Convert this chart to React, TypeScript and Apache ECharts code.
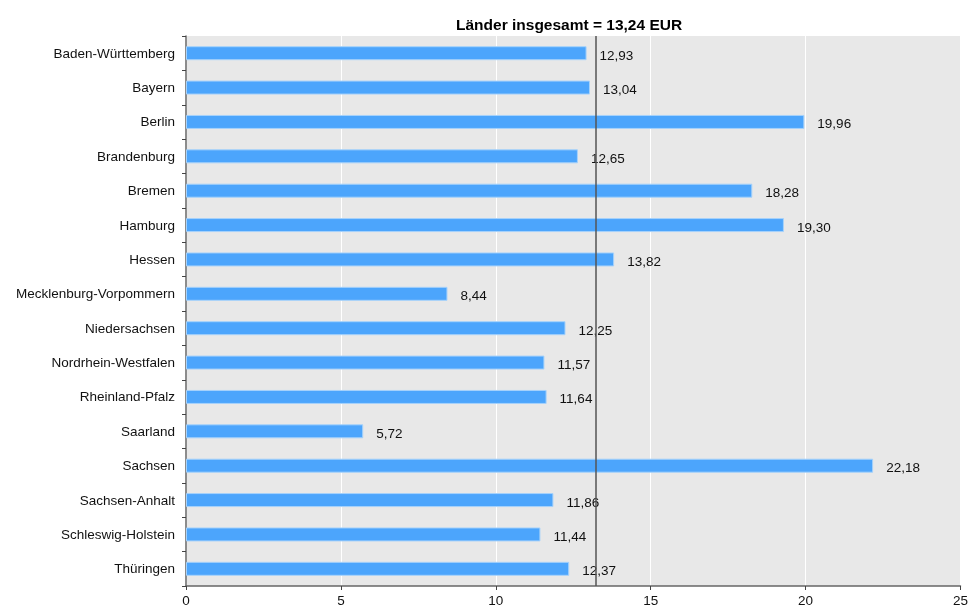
import React, { useEffect, useRef } from "react";
import * as echarts from "echarts";

const categories = [
  "Baden-Württemberg",
  "Bayern",
  "Berlin",
  "Brandenburg",
  "Bremen",
  "Hamburg",
  "Hessen",
  "Mecklenburg-Vorpommern",
  "Niedersachsen",
  "Nordrhein-Westfalen",
  "Rheinland-Pfalz",
  "Saarland",
  "Sachsen",
  "Sachsen-Anhalt",
  "Schleswig-Holstein",
  "Thüringen",
];
const values = [12.93, 13.04, 19.96, 12.65, 18.28, 19.3, 13.82, 8.44, 12.25, 11.57, 11.64, 5.72, 22.18, 11.86, 11.44, 12.37];
const average = 13.24;
const titleText = "Länder insgesamt = 13,24 EUR";

export default function App() {
  const ref = useRef<HTMLDivElement>(null);
  useEffect(() => {
    if (!ref.current) return;
    const chart = echarts.init(ref.current, null, { renderer: "svg", width: 971, height: 607 });
    const font = "'Liberation Sans', Arial, sans-serif";
    chart.setOption({
      animation: false,
      textStyle: { fontFamily: font },
      title: {
        text: titleText,
        left: 451,
        top: 11,
        textStyle: { fontSize: 15.5, fontWeight: "bold", color: "#000", fontFamily: font },
      },
      grid: {
        left: 186,
        width: 778,
        top: 36,
        bottom: 20,
        show: true,
        backgroundColor: "#e8e8e8",
        borderWidth: 0,
        containLabel: false,
      },
      xAxis: {
        type: "value",
        min: 0,
        max: 25,
        interval: 5,
        axisLine: { show: true, lineStyle: { color: "#666", width: 1.5 } },
        axisTick: { show: true, length: 4, lineStyle: { color: "#444" } },
        axisLabel: { fontSize: 13.5, color: "#111", margin: 7, fontFamily: font },
        splitLine: { show: true, lineStyle: { color: "#ffffff", width: 1 } },
      },
      yAxis: {
        type: "category",
        data: categories,
        inverse: true,
        axisLine: { show: true, lineStyle: { color: "#666", width: 1.5 } },
        axisTick: { show: true, length: 4, interval: 0, lineStyle: { color: "#444" } },
        axisLabel: { fontSize: 13.5, color: "#111", margin: 11, fontFamily: font, interval: 0 },
        splitLine: { show: false },
      },
      series: [
        {
          type: "bar",
          data: values,
          barWidth: 14,
          itemStyle: { color: "#4ca5fc", borderColor: "#a6d2fb", borderWidth: 1 },
          label: {
            show: true,
            position: "right",
            distance: 13,
            fontSize: 13.5,
            color: "#111",
            fontFamily: font,
            offset: [0, 2],
            formatter: (p: any) => Number(p.value).toFixed(2).replace(".", ","),
          },
          markLine: {
            silent: true,
            symbol: "none",
            label: { show: false },
            lineStyle: { color: "#555", width: 1.5, type: "solid" },
            data: [{ xAxis: average }],
          },
        },
      ],
    });
    return () => chart.dispose();
  }, []);
  return <div ref={ref} style={{ position: "fixed", left: 0, top: 0, width: 971, height: 607 }} />;
}
